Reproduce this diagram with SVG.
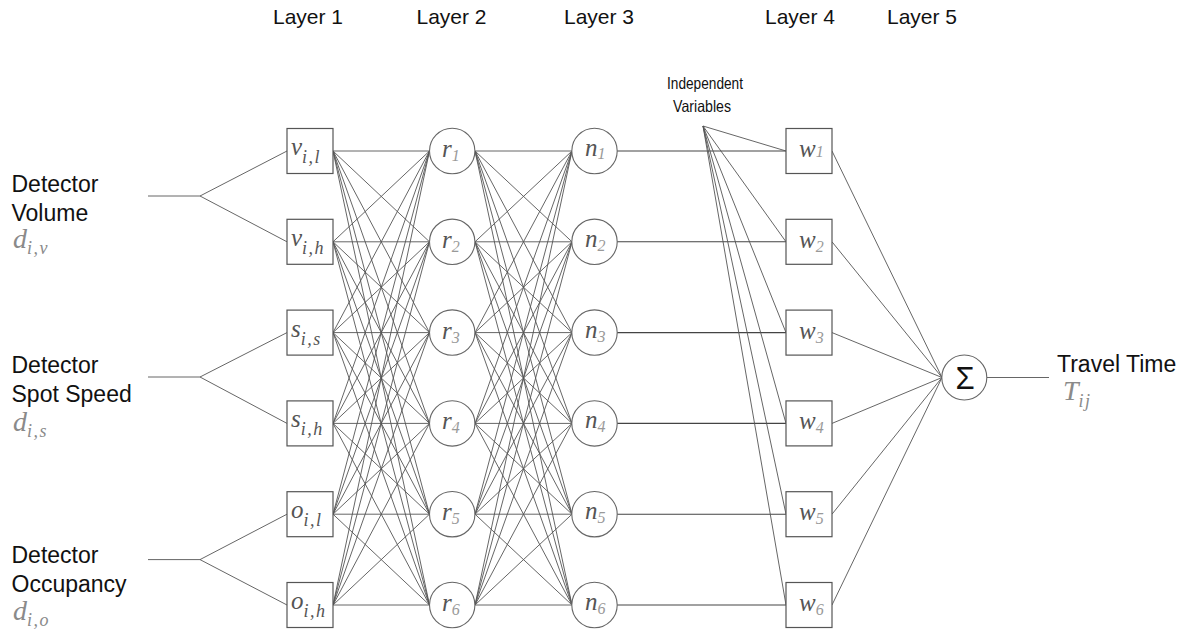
<svg xmlns="http://www.w3.org/2000/svg" width="1193" height="631" viewBox="0 0 1193 631">
<style>
.bg{fill:#fff}
.box{fill:#fff;stroke:#555;stroke-width:1.2}
.cir{fill:#fff;stroke:#666;stroke-width:1.1}
.ln{fill:none;stroke:#555;stroke-width:0.9}
.lnd{fill:none;stroke:#444;stroke-width:1.1}
.t{font-family:"Liberation Sans",Arial,sans-serif;fill:#111}
.lay{font-size:21px}
.lab{font-size:23px}
.iv{font-size:16.5px}
.m{font-family:"Liberation Serif","DejaVu Serif",serif;font-style:italic;fill:#555;font-size:25px}
.dm{font-family:"Liberation Serif","DejaVu Serif",serif;font-style:italic;fill:#8a8a8a;font-size:28px}
.s{font-size:18px;letter-spacing:1.5px}
.sd{font-size:16px;fill:#999}
</style>
<rect class="bg" width="1193" height="631"/>

<g id="layer-labels">
<text class="t lay" x="308" y="24" text-anchor="middle">Layer 1</text>
<text class="t lay" x="451.5" y="24" text-anchor="middle">Layer 2</text>
<text class="t lay" x="599" y="24" text-anchor="middle">Layer 3</text>
<text class="t lay" x="800" y="24" text-anchor="middle">Layer 4</text>
<text class="t lay" x="922" y="24" text-anchor="middle">Layer 5</text>
</g>

<g id="connectors">
<path class="ln" d="M148 196H200L287 151M200 196L287 241.8M148 377H200L287 332.6M200 377L287 423.4M148 559.6H200L287 514.2M200 559.6L287 605"/>
<path class="ln" d="M333 151L429.5 151M333 151L429.5 241.8M333 151L429.5 332.6M333 151L429.5 423.4M333 151L429.5 514.2M333 151L429.5 605
M333 241.8L429.5 151M333 241.8L429.5 241.8M333 241.8L429.5 332.6M333 241.8L429.5 423.4M333 241.8L429.5 514.2M333 241.8L429.5 605
M333 332.6L429.5 151M333 332.6L429.5 241.8M333 332.6L429.5 332.6M333 332.6L429.5 423.4M333 332.6L429.5 514.2M333 332.6L429.5 605
M333 423.4L429.5 151M333 423.4L429.5 241.8M333 423.4L429.5 332.6M333 423.4L429.5 423.4M333 423.4L429.5 514.2M333 423.4L429.5 605
M333 514.2L429.5 151M333 514.2L429.5 241.8M333 514.2L429.5 332.6M333 514.2L429.5 423.4M333 514.2L429.5 514.2M333 514.2L429.5 605
M333 605L429.5 151M333 605L429.5 241.8M333 605L429.5 332.6M333 605L429.5 423.4M333 605L429.5 514.2M333 605L429.5 605"/>
<path class="ln" d="M475 151L572 151M475 151L572 241.8M475 151L572 332.6M475 151L572 423.4M475 151L572 514.2M475 151L572 605
M475 241.8L572 151M475 241.8L572 241.8M475 241.8L572 332.6M475 241.8L572 423.4M475 241.8L572 514.2M475 241.8L572 605
M475 332.6L572 151M475 332.6L572 241.8M475 332.6L572 332.6M475 332.6L572 423.4M475 332.6L572 514.2M475 332.6L572 605
M475 423.4L572 151M475 423.4L572 241.8M475 423.4L572 332.6M475 423.4L572 423.4M475 423.4L572 514.2M475 423.4L572 605
M475 514.2L572 151M475 514.2L572 241.8M475 514.2L572 332.6M475 514.2L572 423.4M475 514.2L572 514.2M475 514.2L572 605
M475 605L572 151M475 605L572 241.8M475 605L572 332.6M475 605L572 423.4M475 605L572 514.2M475 605L572 605"/>
<path class="lnd" d="M617 151H786M617 241.8H786M617 332.6H786M617 423.4H786M617 514.2H786M617 605H786"/>
<path class="ln" d="M703 126L786 151M703 126L786 241.8M703 126L786 332.6M703 126L786 423.4M703 126L786 514.2M703 126L786 605"/>
<path class="ln" d="M832 151L942 377.5M832 241.8L942 377.5M832 332.6L942 377.5M832 423.4L942 377.5M832 514.2L942 377.5M832 605L942 377.5"/>
<path class="ln" d="M987 377.5H1049"/>
</g>

<g id="input-volume">
<text class="t lab" x="11.5" y="192">Detector</text>
<text class="t lab" x="11.5" y="221">Volume</text>
<text class="dm" x="13" y="248">d<tspan class="s" dy="6">i,v</tspan></text>
</g>
<g id="input-speed">
<text class="t lab" x="11.5" y="373">Detector</text>
<text class="t lab" x="11.5" y="402">Spot Speed</text>
<text class="dm" x="13" y="431">d<tspan class="s" dy="6">i,s</tspan></text>
</g>
<g id="input-occupancy">
<text class="t lab" x="11.5" y="563">Detector</text>
<text class="t lab" x="11.5" y="592">Occupancy</text>
<text class="dm" x="13" y="620">d<tspan class="s" dy="6">i,o</tspan></text>
</g>

<g id="v-il"><rect class="box" x="287" y="128.5" width="46" height="45"/><text class="m" x="291" y="155">v<tspan class="s" dy="8">i,l</tspan></text></g>
<g id="v-ih"><rect class="box" x="287" y="219.3" width="46" height="45"/><text class="m" x="291" y="245.8">v<tspan class="s" dy="8">i,h</tspan></text></g>
<g id="s-is"><rect class="box" x="287" y="310.1" width="46" height="45"/><text class="m" x="291" y="336.6">s<tspan class="s" dy="8">i,s</tspan></text></g>
<g id="s-ih"><rect class="box" x="287" y="400.9" width="46" height="45"/><text class="m" x="291" y="427.4">s<tspan class="s" dy="8">i,h</tspan></text></g>
<g id="o-il"><rect class="box" x="287" y="491.7" width="46" height="45"/><text class="m" x="291" y="518.2">o<tspan class="s" dy="8">i,l</tspan></text></g>
<g id="o-ih"><rect class="box" x="287" y="582.5" width="46" height="45"/><text class="m" x="291" y="609">o<tspan class="s" dy="8">i,h</tspan></text></g>

<g id="r1"><circle class="cir" cx="452.2" cy="151" r="22.7"/><text class="m" x="442" y="157">r<tspan class="sd" dy="4">1</tspan></text></g>
<g id="r2"><circle class="cir" cx="452.2" cy="241.8" r="22.7"/><text class="m" x="442" y="247.8">r<tspan class="sd" dy="4">2</tspan></text></g>
<g id="r3"><circle class="cir" cx="452.2" cy="332.6" r="22.7"/><text class="m" x="442" y="338.6">r<tspan class="sd" dy="4">3</tspan></text></g>
<g id="r4"><circle class="cir" cx="452.2" cy="423.4" r="22.7"/><text class="m" x="442" y="429.4">r<tspan class="sd" dy="4">4</tspan></text></g>
<g id="r5"><circle class="cir" cx="452.2" cy="514.2" r="22.7"/><text class="m" x="442" y="520.2">r<tspan class="sd" dy="4">5</tspan></text></g>
<g id="r6"><circle class="cir" cx="452.2" cy="605" r="22.7"/><text class="m" x="442" y="611">r<tspan class="sd" dy="4">6</tspan></text></g>

<g id="n1"><circle class="cir" cx="594.5" cy="151" r="22.7"/><text class="m" x="585" y="156">n<tspan class="sd" dy="3">1</tspan></text></g>
<g id="n2"><circle class="cir" cx="594.5" cy="241.8" r="22.7"/><text class="m" x="585" y="246.8">n<tspan class="sd" dy="4">2</tspan></text></g>
<g id="n3"><circle class="cir" cx="594.5" cy="332.6" r="22.7"/><text class="m" x="585" y="337.6">n<tspan class="sd" dy="4">3</tspan></text></g>
<g id="n4"><circle class="cir" cx="594.5" cy="423.4" r="22.7"/><text class="m" x="585" y="428.4">n<tspan class="sd" dy="4">4</tspan></text></g>
<g id="n5"><circle class="cir" cx="594.5" cy="514.2" r="22.7"/><text class="m" x="585" y="519.2">n<tspan class="sd" dy="4">5</tspan></text></g>
<g id="n6"><circle class="cir" cx="594.5" cy="605" r="22.7"/><text class="m" x="585" y="610">n<tspan class="sd" dy="4">6</tspan></text></g>

<g id="independent-variables">
<text class="t iv" x="667" y="89" textLength="76" lengthAdjust="spacingAndGlyphs">Independent</text>
<text class="t iv" x="673" y="112" textLength="58" lengthAdjust="spacingAndGlyphs">Variables</text>
</g>

<g id="w1"><rect class="box" x="786" y="128.5" width="46" height="45"/><text class="m" x="799" y="157">w<tspan class="sd" dy="0">1</tspan></text></g>
<g id="w2"><rect class="box" x="786" y="219.3" width="46" height="45"/><text class="m" x="799" y="247.8">w<tspan class="sd" dy="4">2</tspan></text></g>
<g id="w3"><rect class="box" x="786" y="310.1" width="46" height="45"/><text class="m" x="799" y="338.6">w<tspan class="sd" dy="4">3</tspan></text></g>
<g id="w4"><rect class="box" x="786" y="400.9" width="46" height="45"/><text class="m" x="799" y="429.4">w<tspan class="sd" dy="4">4</tspan></text></g>
<g id="w5"><rect class="box" x="786" y="491.7" width="46" height="45"/><text class="m" x="799" y="520.2">w<tspan class="sd" dy="4">5</tspan></text></g>
<g id="w6"><rect class="box" x="786" y="582.5" width="46" height="45"/><text class="m" x="799" y="611">w<tspan class="sd" dy="4">6</tspan></text></g>

<g id="sum"><circle class="cir" cx="964.3" cy="377.5" r="22.5"/><text class="t" x="965" y="389" font-size="31" text-anchor="middle">Σ</text></g>

<g id="output">
<text class="t lab" x="1057" y="372">Travel Time</text>
<text class="dm" x="1063" y="400">T<tspan class="s" dy="7">ij</tspan></text>
</g>
</svg>
